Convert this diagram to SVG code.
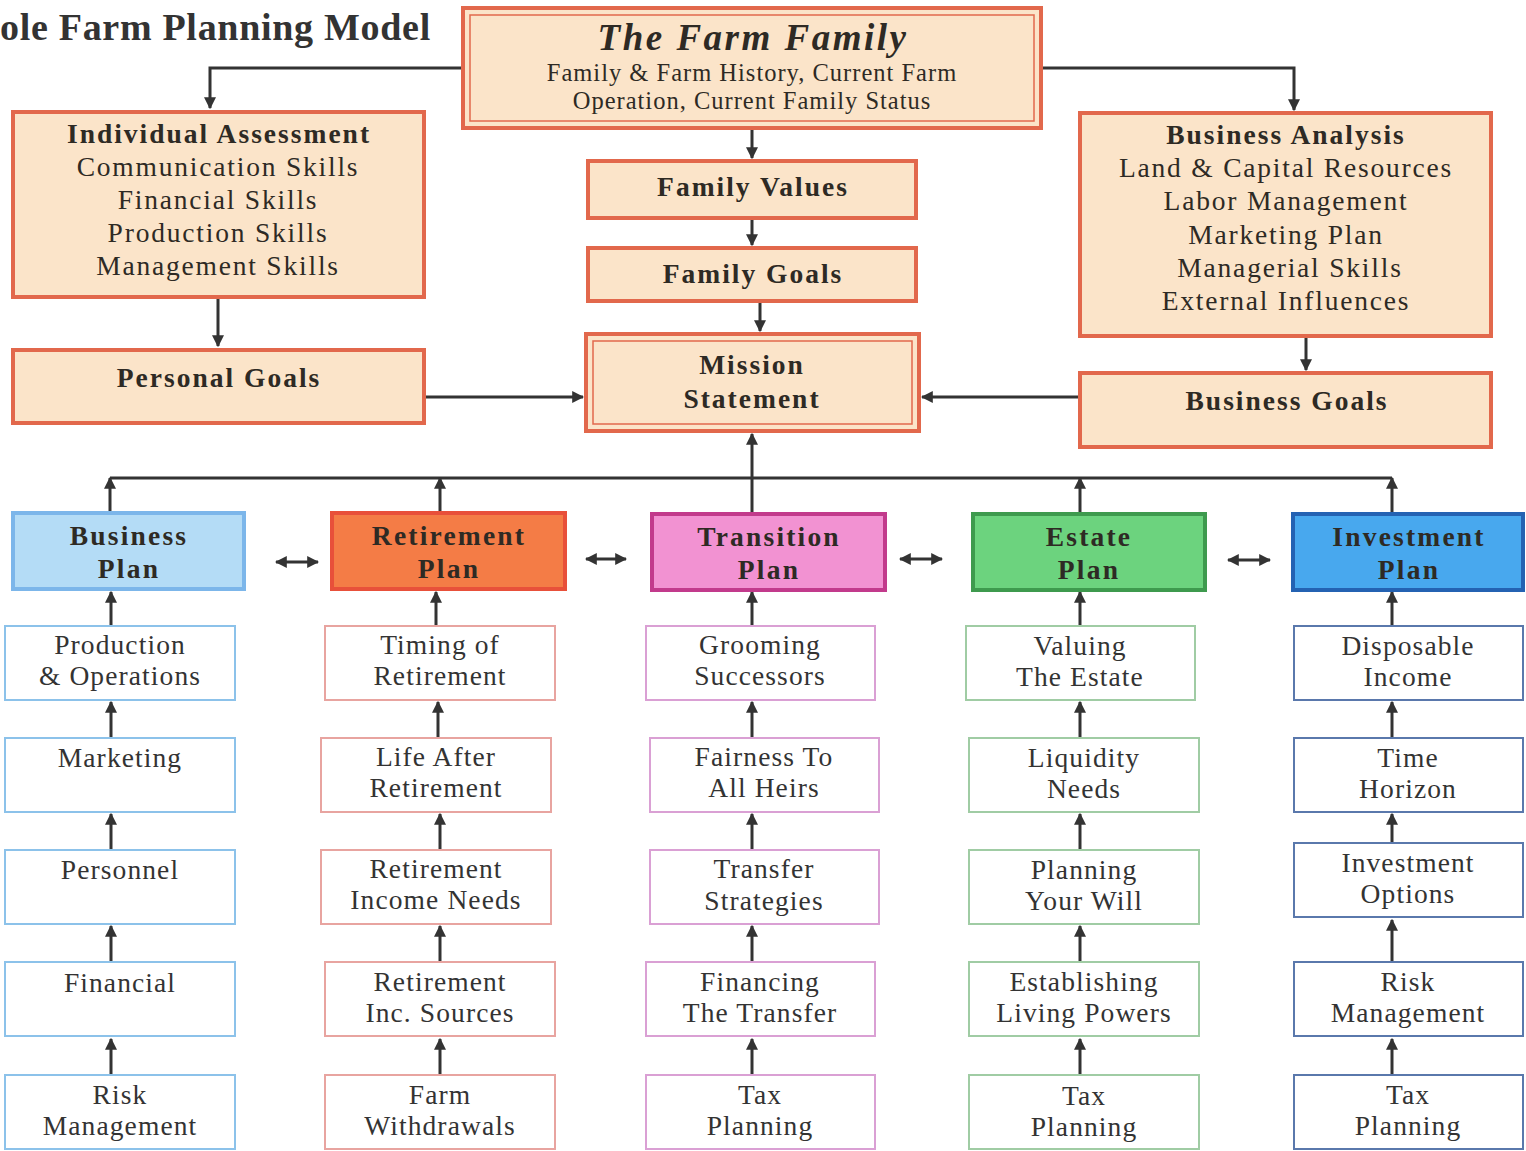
<svg xmlns="http://www.w3.org/2000/svg" width="1526" height="1151" viewBox="0 0 1526 1151">
<style>
.bg{fill:#ffffff}
.peach{fill:#fbe4c9;stroke:#e2684c;stroke-width:4}
.inner{fill:none;stroke:#e2684c;stroke-width:1.5}
.hb{font-family:"Liberation Serif",serif;font-weight:bold;font-size:27.5px;fill:#2e2a24;text-anchor:middle;letter-spacing:2px}
.ht{font-family:"Liberation Serif",serif;font-size:27.5px;fill:#2e2a24;text-anchor:middle;letter-spacing:1.8px}
.st{font-family:"Liberation Serif",serif;font-size:27.5px;fill:#333;text-anchor:middle;letter-spacing:1.1px}
.pl{font-family:"Liberation Serif",serif;font-weight:bold;font-size:27.5px;fill:#2e2a24;text-anchor:middle;letter-spacing:2.2px}
.sub{fill:#ffffff;stroke-width:2}
.c{stroke:#333;stroke-width:3;fill:none}
</style>
<defs>
<marker id="ah" viewBox="0 0 10 10" refX="9" refY="5" markerWidth="4" markerHeight="4" orient="auto-start-reverse">
<path d="M0,0 L10,5 L0,10 z" fill="#333"/>
</marker>
</defs>
<rect class="bg" x="0" y="0" width="1526" height="1151"/>
<text x="0" y="40" style="font-family:'Liberation Serif',serif;font-weight:bold;font-size:38px;fill:#333;letter-spacing:0.7px">ole Farm Planning Model</text>

<g id="connectors">
<path class="c" d="M461,68 H210 V108" marker-end="url(#ah)"/>
<path class="c" d="M1043,68 H1294 V110" marker-end="url(#ah)"/>
<path class="c" d="M752,130 V158" marker-end="url(#ah)"/>
<path class="c" d="M752,219 V245" marker-end="url(#ah)"/>
<path class="c" d="M760,302 V331" marker-end="url(#ah)"/>
<path class="c" d="M218,298 V346" marker-end="url(#ah)"/>
<path class="c" d="M1306,337 V370" marker-end="url(#ah)"/>
<path class="c" d="M425,397 H583" marker-end="url(#ah)"/>
<path class="c" d="M1079,397 H922" marker-end="url(#ah)"/>
<path class="c" d="M110,478 H1392"/>
<path class="c" d="M752,512 V434" marker-end="url(#ah)"/>
<path class="c" d="M110,512 V478" marker-end="url(#ah)"/>
<path class="c" d="M440,512 V478" marker-end="url(#ah)"/>
<path class="c" d="M1080,512 V478" marker-end="url(#ah)"/>
<path class="c" d="M1392,512 V478" marker-end="url(#ah)"/>
<path class="c" d="M276,562 H318" marker-start="url(#ah)" marker-end="url(#ah)"/>
<path class="c" d="M586,559 H626" marker-start="url(#ah)" marker-end="url(#ah)"/>
<path class="c" d="M900,559 H942" marker-start="url(#ah)" marker-end="url(#ah)"/>
<path class="c" d="M1228,560 H1270" marker-start="url(#ah)" marker-end="url(#ah)"/>
<path class="c" d="M111,625 V592" marker-end="url(#ah)"/>
<path class="c" d="M111,737 V702" marker-end="url(#ah)"/>
<path class="c" d="M111,849 V814" marker-end="url(#ah)"/>
<path class="c" d="M111,962 V926" marker-end="url(#ah)"/>
<path class="c" d="M111,1074 V1039" marker-end="url(#ah)"/>
<path class="c" d="M436,625 V592" marker-end="url(#ah)"/>
<path class="c" d="M438,737 V702" marker-end="url(#ah)"/>
<path class="c" d="M440,849 V814" marker-end="url(#ah)"/>
<path class="c" d="M440,962 V926" marker-end="url(#ah)"/>
<path class="c" d="M440,1074 V1039" marker-end="url(#ah)"/>
<path class="c" d="M752,625 V592" marker-end="url(#ah)"/>
<path class="c" d="M752,737 V702" marker-end="url(#ah)"/>
<path class="c" d="M752,849 V814" marker-end="url(#ah)"/>
<path class="c" d="M752,962 V926" marker-end="url(#ah)"/>
<path class="c" d="M752,1074 V1039" marker-end="url(#ah)"/>
<path class="c" d="M1080,625 V592" marker-end="url(#ah)"/>
<path class="c" d="M1080,737 V702" marker-end="url(#ah)"/>
<path class="c" d="M1080,849 V814" marker-end="url(#ah)"/>
<path class="c" d="M1080,962 V926" marker-end="url(#ah)"/>
<path class="c" d="M1080,1074 V1039" marker-end="url(#ah)"/>
<path class="c" d="M1392,625 V592" marker-end="url(#ah)"/>
<path class="c" d="M1392,737 V702" marker-end="url(#ah)"/>
<path class="c" d="M1392,842 V814" marker-end="url(#ah)"/>
<path class="c" d="M1392,962 V920" marker-end="url(#ah)"/>
<path class="c" d="M1392,1074 V1039" marker-end="url(#ah)"/>
</g>

<g id="farm-family">
<rect class="peach" x="463" y="8" width="578" height="120"/>
<rect class="inner" x="470" y="15" width="564" height="106"/>
<text x="753" y="50" style="font-family:'Liberation Serif',serif;font-weight:bold;font-style:italic;font-size:37px;fill:#2e2a24;text-anchor:middle;letter-spacing:2.5px">The Farm Family</text>
<text class="ht" x="752" y="81" style="font-size:24.5px;letter-spacing:1px">Family &amp; Farm History, Current Farm</text>
<text class="ht" x="752" y="109" style="font-size:24.5px;letter-spacing:1px">Operation, Current Family Status</text>
</g>

<g id="individual-assessment">
<rect class="peach" x="13" y="112" width="411" height="185"/>
<text class="hb" x="219" y="143">Individual Assessment</text>
<text class="ht" x="218" y="176">Communication Skills</text>
<text class="ht" x="218" y="209">Financial Skills</text>
<text class="ht" x="218" y="242">Production Skills</text>
<text class="ht" x="218" y="275">Management Skills</text>
</g>

<g id="personal-goals">
<rect class="peach" x="13" y="350" width="411" height="73"/>
<text class="hb" x="219" y="387">Personal Goals</text>
</g>

<g id="family-values">
<rect class="peach" x="588" y="161" width="328" height="57"/>
<text class="hb" x="753" y="196">Family Values</text>
</g>

<g id="family-goals">
<rect class="peach" x="588" y="248" width="328" height="53"/>
<text class="hb" x="753" y="283">Family Goals</text>
</g>

<g id="mission-statement">
<rect class="peach" x="586" y="334" width="333" height="97"/>
<rect class="inner" x="593" y="341" width="319" height="83"/>
<text class="hb" x="752" y="374">Mission</text>
<text class="hb" x="752" y="408">Statement</text>
</g>

<g id="business-analysis">
<rect class="peach" x="1080" y="113" width="411" height="223"/>
<text class="hb" x="1286" y="144">Business Analysis</text>
<text class="ht" x="1286" y="177">Land &amp; Capital Resources</text>
<text class="ht" x="1286" y="210">Labor Management</text>
<text class="ht" x="1286" y="244">Marketing Plan</text>
<text class="ht" x="1290" y="277">Managerial Skills</text>
<text class="ht" x="1286" y="310">External Influences</text>
</g>

<g id="business-goals">
<rect class="peach" x="1080" y="373" width="411" height="74"/>
<text class="hb" x="1287" y="410">Business Goals</text>
</g>

<g id="business-plan">
<rect x="13" y="513" width="231" height="76" fill="#b4dcf6" stroke="#7cb6ea" stroke-width="4"/>
<text class="pl" x="129" y="545">Business</text>
<text class="pl" x="129" y="578">Plan</text>
</g>
<g id="retirement-plan">
<rect x="332" y="513" width="233" height="76" fill="#f47c46" stroke="#e8503a" stroke-width="4"/>
<text class="pl" x="449" y="545">Retirement</text>
<text class="pl" x="449" y="578">Plan</text>
</g>
<g id="transition-plan">
<rect x="652" y="514" width="233" height="76" fill="#f292d2" stroke="#c23a8c" stroke-width="4"/>
<text class="pl" x="769" y="546">Transition</text>
<text class="pl" x="769" y="579">Plan</text>
</g>
<g id="estate-plan">
<rect x="973" y="514" width="232" height="76" fill="#6cd37e" stroke="#3e9a4e" stroke-width="4"/>
<text class="pl" x="1089" y="546">Estate</text>
<text class="pl" x="1089" y="579">Plan</text>
</g>
<g id="investment-plan">
<rect x="1293" y="514" width="230" height="76" fill="#48a8ee" stroke="#2462b2" stroke-width="4"/>
<text class="pl" x="1409" y="546">Investment</text>
<text class="pl" x="1409" y="579">Plan</text>
</g>

<g id="production-operations"><rect class="sub" x="5" y="626" width="230" height="74" stroke="#8cc2ea"/><text class="st" x="120" y="654">Production</text><text class="st" x="120" y="685">&amp; Operations</text></g>
<g id="marketing"><rect class="sub" x="5" y="738" width="230" height="74" stroke="#8cc2ea"/><text class="st" x="120" y="767">Marketing</text></g>
<g id="personnel"><rect class="sub" x="5" y="850" width="230" height="74" stroke="#8cc2ea"/><text class="st" x="120" y="879">Personnel</text></g>
<g id="financial"><rect class="sub" x="5" y="962" width="230" height="74" stroke="#8cc2ea"/><text class="st" x="120" y="992">Financial</text></g>
<g id="risk-management-1"><rect class="sub" x="5" y="1075" width="230" height="74" stroke="#8cc2ea"/><text class="st" x="120" y="1104">Risk</text><text class="st" x="120" y="1135">Management</text></g>

<g id="timing-of-retirement"><rect class="sub" x="325" y="626" width="230" height="74" stroke="#e8a4a0"/><text class="st" x="440" y="654">Timing of</text><text class="st" x="440" y="685">Retirement</text></g>
<g id="life-after-retirement"><rect class="sub" x="321" y="738" width="230" height="74" stroke="#e8a4a0"/><text class="st" x="436" y="766">Life After</text><text class="st" x="436" y="797">Retirement</text></g>
<g id="retirement-income-needs"><rect class="sub" x="321" y="850" width="230" height="74" stroke="#e8a4a0"/><text class="st" x="436" y="878">Retirement</text><text class="st" x="436" y="909">Income Needs</text></g>
<g id="retirement-inc-sources"><rect class="sub" x="325" y="962" width="230" height="74" stroke="#e8a4a0"/><text class="st" x="440" y="991">Retirement</text><text class="st" x="440" y="1022">Inc. Sources</text></g>
<g id="farm-withdrawals"><rect class="sub" x="325" y="1075" width="230" height="74" stroke="#e8a4a0"/><text class="st" x="440" y="1104">Farm</text><text class="st" x="440" y="1135">Withdrawals</text></g>

<g id="grooming-successors"><rect class="sub" x="646" y="626" width="229" height="74" stroke="#daa0d4"/><text class="st" x="760" y="654">Grooming</text><text class="st" x="760" y="685">Successors</text></g>
<g id="fairness-to-all-heirs"><rect class="sub" x="650" y="738" width="229" height="74" stroke="#daa0d4"/><text class="st" x="764" y="766">Fairness To</text><text class="st" x="764" y="797">All Heirs</text></g>
<g id="transfer-strategies"><rect class="sub" x="650" y="850" width="229" height="74" stroke="#daa0d4"/><text class="st" x="764" y="878">Transfer</text><text class="st" x="764" y="910">Strategies</text></g>
<g id="financing-the-transfer"><rect class="sub" x="646" y="962" width="229" height="74" stroke="#daa0d4"/><text class="st" x="760" y="991">Financing</text><text class="st" x="760" y="1022">The Transfer</text></g>
<g id="tax-planning-3"><rect class="sub" x="646" y="1075" width="229" height="74" stroke="#daa0d4"/><text class="st" x="760" y="1104">Tax</text><text class="st" x="760" y="1135">Planning</text></g>

<g id="valuing-the-estate"><rect class="sub" x="966" y="626" width="229" height="74" stroke="#a0cca4"/><text class="st" x="1080" y="655">Valuing</text><text class="st" x="1080" y="686">The Estate</text></g>
<g id="liquidity-needs"><rect class="sub" x="969" y="738" width="230" height="74" stroke="#a0cca4"/><text class="st" x="1084" y="767">Liquidity</text><text class="st" x="1084" y="798">Needs</text></g>
<g id="planning-your-will"><rect class="sub" x="969" y="850" width="230" height="74" stroke="#a0cca4"/><text class="st" x="1084" y="879">Planning</text><text class="st" x="1084" y="910">Your Will</text></g>
<g id="establishing-living-powers"><rect class="sub" x="969" y="962" width="230" height="74" stroke="#a0cca4"/><text class="st" x="1084" y="991">Establishing</text><text class="st" x="1084" y="1022">Living Powers</text></g>
<g id="tax-planning-4"><rect class="sub" x="969" y="1075" width="230" height="74" stroke="#a0cca4"/><text class="st" x="1084" y="1105">Tax</text><text class="st" x="1084" y="1136">Planning</text></g>

<g id="disposable-income"><rect class="sub" x="1294" y="626" width="229" height="74" stroke="#5a78ac"/><text class="st" x="1408" y="655">Disposable</text><text class="st" x="1408" y="686">Income</text></g>
<g id="time-horizon"><rect class="sub" x="1294" y="738" width="229" height="74" stroke="#5a78ac"/><text class="st" x="1408" y="767">Time</text><text class="st" x="1408" y="798">Horizon</text></g>
<g id="investment-options"><rect class="sub" x="1294" y="843" width="229" height="74" stroke="#5a78ac"/><text class="st" x="1408" y="872">Investment</text><text class="st" x="1408" y="903">Options</text></g>
<g id="risk-management-5"><rect class="sub" x="1294" y="962" width="229" height="74" stroke="#5a78ac"/><text class="st" x="1408" y="991">Risk</text><text class="st" x="1408" y="1022">Management</text></g>
<g id="tax-planning-5"><rect class="sub" x="1294" y="1075" width="229" height="74" stroke="#5a78ac"/><text class="st" x="1408" y="1104">Tax</text><text class="st" x="1408" y="1135">Planning</text></g>
</svg>
